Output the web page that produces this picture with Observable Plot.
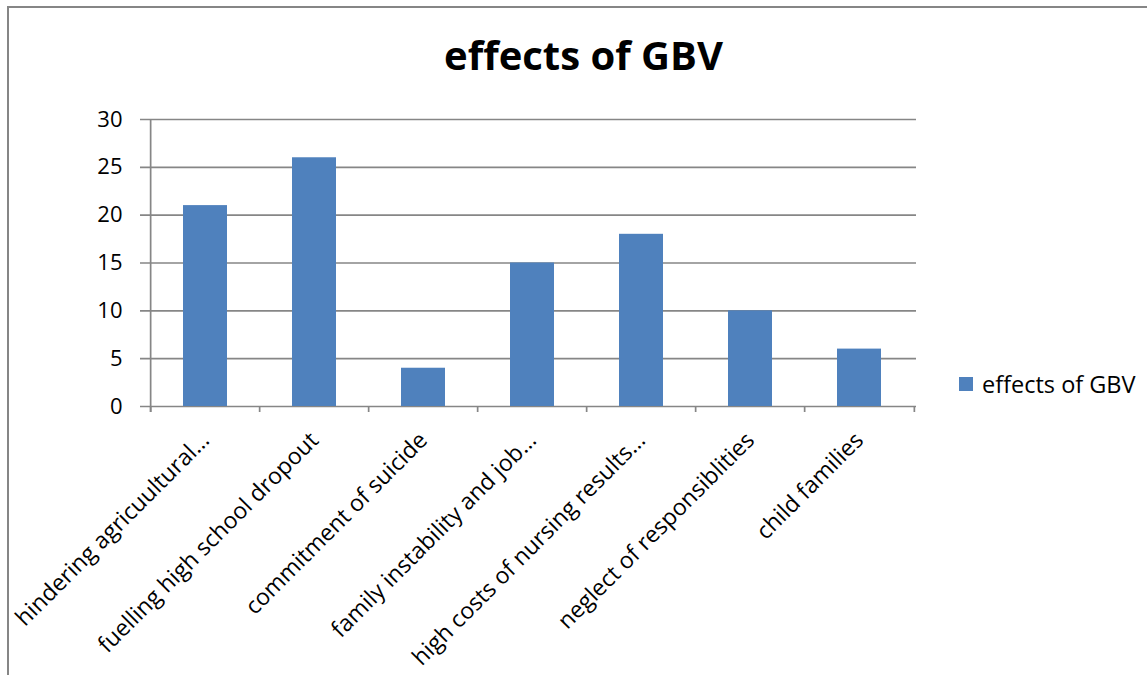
<!DOCTYPE html>
<html><head><meta charset="utf-8">
<script src="https://cdn.jsdelivr.net/npm/d3@7"></script>
<script src="https://cdn.jsdelivr.net/npm/@observablehq/plot@0.6"></script>
<style>
body{margin:0;background:#fff;}
#wrap{position:relative;width:1147px;height:675px;overflow:hidden;font-family:"Open Sans",sans-serif;background:#fff;}
#frame{position:absolute;left:7px;top:6px;width:1300px;height:800px;border-left:2px solid #868686;border-top:2px solid #868686;box-sizing:border-box;}
#chart{position:absolute;left:0;top:0;}
#title{position:absolute;left:383.5px;width:400px;top:35px;text-align:center;font-weight:bold;font-size:40px;line-height:40px;color:#000;white-space:nowrap;}
#legend{position:absolute;left:959px;top:372px;font-size:23.5px;line-height:24px;color:#000;white-space:nowrap;display:flex;align-items:center;}
#legend .sw{display:inline-block;width:14px;height:14px;background:#4F81BD;margin-right:9px;}
</style>
</head><body>
<div id="wrap">
  <div id="frame"></div>
  <div id="chart"></div>
  <div id="title">effects of GBV</div>
  <div id="legend"><span class="sw"></span><span id="legtext">effects of GBV</span></div>
</div>
<script>
const seriesName = "effects of GBV";
const categories = [
  "hindering agricuultural…",
  "fuelling high school dropout",
  "commitment of suicide",
  "family instability and job…",
  "high costs of nursing results…",
  "neglect of responsiblities",
  "child families"
];
const values = [21, 26, 4, 15, 18, 10, 6];
const yTicks = [0, 5, 10, 15, 20, 25, 30];

const data = categories.map((c, i) => ({category: c, value: values[i]}));

const W = 1147, H = 675;
const mL = 148, mR = 231, mT = 119, mB = 269;
const step = (W - mL - mR) / categories.length;
const plotH = H - mT - mB;
const grid = "#868686";

const chart = Plot.plot({
  width: W, height: H,
  marginLeft: mL, marginRight: mR, marginTop: mT, marginBottom: mB,
  style: {fontFamily: "'Open Sans', sans-serif", fontSize: "22px", color: "#000", background: "transparent", overflow: "visible"},
  x: {domain: categories, paddingInner: 0.6, paddingOuter: 0.3, label: null},
  y: {domain: [0, 30], label: null},
  marks: [
    Plot.ruleY(yTicks, {y: d => d, stroke: grid, strokeWidth: 1.7, insetLeft: -8}),
    Plot.barY(data, {x: "category", y: "value", fill: "#4F81BD"}),
    Plot.ruleX([categories[0]], {x: d => d, dx: -step/2, stroke: grid, strokeWidth: 1.7, insetBottom: -6}),
    Plot.ruleX(categories, {x: d => d, dx: -step/2, stroke: grid, strokeWidth: 1.7, insetTop: plotH, insetBottom: -6}),
    Plot.ruleX([categories[categories.length-1]], {x: d => d, dx: step/2, stroke: grid, strokeWidth: 1.7, insetTop: plotH, insetBottom: -6}),
    Plot.axisY({ticks: yTicks, tickSize: 0, tickPadding: 26, fontSize: 22, label: null}),
    Plot.axisX({tickSize: 0, tickRotate: -45, tickPadding: 0, fontSize: 23, dx: 0, dy: 30, label: null})
  ]
});
document.getElementById("chart").appendChild(chart);
</script>
</body></html>
